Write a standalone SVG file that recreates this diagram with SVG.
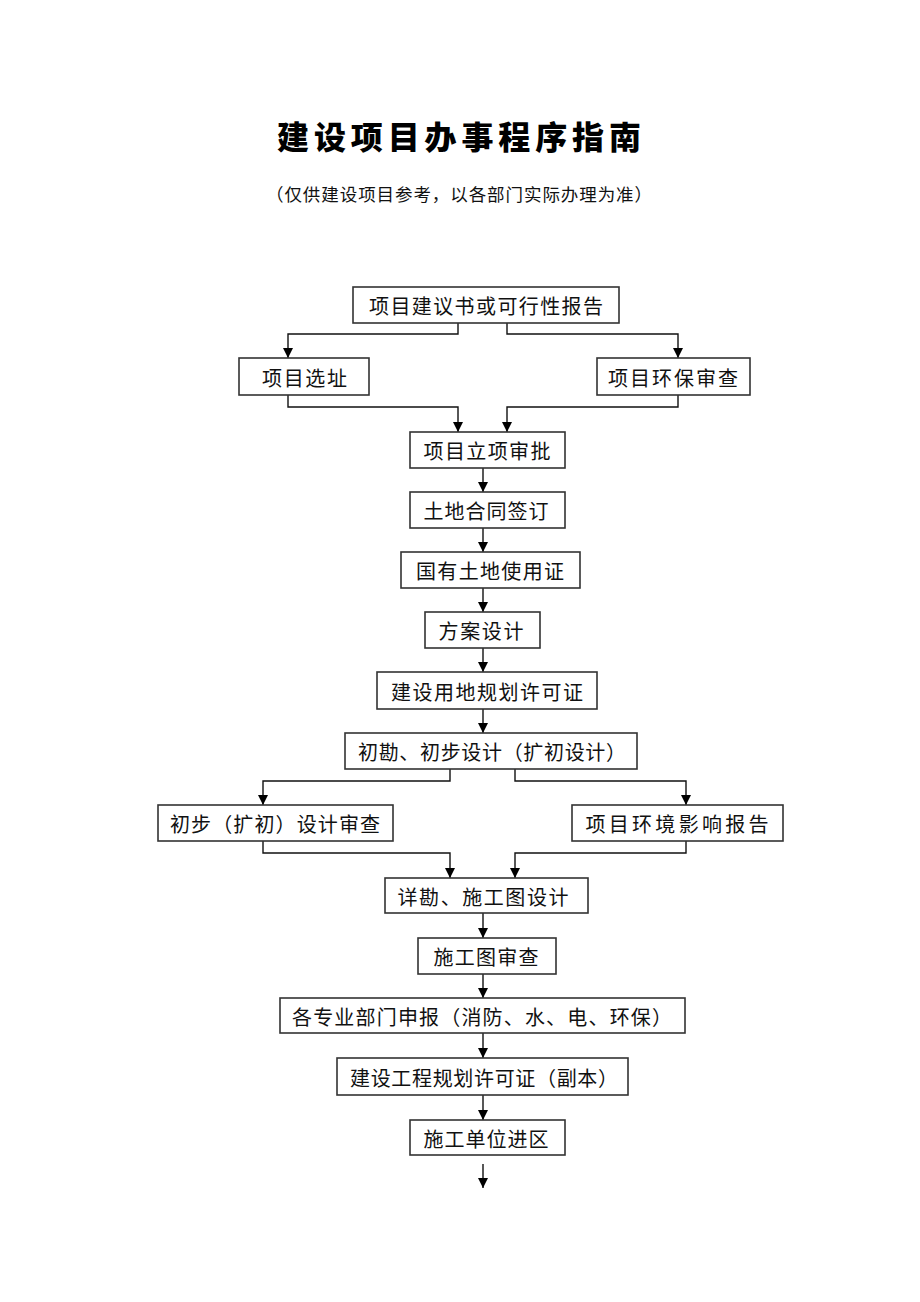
<svg xmlns="http://www.w3.org/2000/svg" width="920" height="1302" viewBox="0 0 920 1302">
<style>
.box{fill:#fff;stroke:#333;stroke-width:1.6}
.t{font-family:"Noto Sans CJK SC","Noto Sans CJK TC",sans-serif;font-size:20px;fill:#111;text-anchor:middle}
.c{fill:none;stroke:#111;stroke-width:1.4}
.title{font-family:"Noto Sans CJK SC",sans-serif;font-size:32px;font-weight:900;fill:#000;text-anchor:middle}
.sub{font-family:"Noto Sans CJK SC",sans-serif;font-size:17.5px;fill:#111;text-anchor:middle}
</style>
<defs>
<marker id="ah" markerUnits="userSpaceOnUse" markerWidth="10" markerHeight="10" refX="10" refY="5" orient="auto" viewBox="0 0 10 10">
<path d="M0,0 L10,5 L0,10 z" fill="#000"/>
</marker>
</defs>
<rect width="920" height="1302" fill="#fff"/>
<text class="title" x="459" y="149" textLength="364" lengthAdjust="spacing">建设项目办事程序指南</text>
<text class="sub" x="459" y="201" textLength="386" lengthAdjust="spacing">（仅供建设项目参考，以各部门实际办理为准）</text>

<g id="connectors">
<path class="c" marker-end="url(#ah)" d="M458,323 V334 H288 V358"/>
<path class="c" marker-end="url(#ah)" d="M507,323 V334 H678 V358"/>
<path class="c" marker-end="url(#ah)" d="M288,395 V407 H458 V432"/>
<path class="c" marker-end="url(#ah)" d="M678,395 V407 H507 V432"/>
<path class="c" marker-end="url(#ah)" d="M483,468 V492"/>
<path class="c" marker-end="url(#ah)" d="M483,528 V552"/>
<path class="c" marker-end="url(#ah)" d="M483,588 V612"/>
<path class="c" marker-end="url(#ah)" d="M483,648 V672"/>
<path class="c" marker-end="url(#ah)" d="M483,709 V733"/>
<path class="c" marker-end="url(#ah)" d="M450,769 V781 H263 V805"/>
<path class="c" marker-end="url(#ah)" d="M515,769 V781 H686 V805"/>
<path class="c" marker-end="url(#ah)" d="M263,841 V853 H450 V878"/>
<path class="c" marker-end="url(#ah)" d="M686,841 V853 H515 V878"/>
<path class="c" marker-end="url(#ah)" d="M483,913 V938"/>
<path class="c" marker-end="url(#ah)" d="M483,974 V998"/>
<path class="c" marker-end="url(#ah)" d="M483,1033 V1058"/>
<path class="c" marker-end="url(#ah)" d="M483,1095 V1120"/>
<path class="c" marker-end="url(#ah)" d="M483,1164 V1188"/>
</g>

<g id="n1"><rect class="box" x="353" y="287" width="266" height="36"/><text class="t" x="486" y="314" textLength="234" lengthAdjust="spacing">项目建议书或可行性报告</text></g>
<g id="n2"><rect class="box" x="239" y="358" width="130" height="37"/><text class="t" x="304.5" y="385.5" textLength="85" lengthAdjust="spacing">项目选址</text></g>
<g id="n3"><rect class="box" x="597" y="358" width="153" height="37"/><text class="t" x="673" y="385.5" textLength="130" lengthAdjust="spacing">项目环保审查</text></g>
<g id="n4"><rect class="box" x="410" y="432" width="155" height="36"/><text class="t" x="487" y="459" textLength="127" lengthAdjust="spacing">项目立项审批</text></g>
<g id="n5"><rect class="box" x="410" y="492" width="155" height="36"/><text class="t" x="486" y="519" textLength="125" lengthAdjust="spacing">土地合同签订</text></g>
<g id="n6"><rect class="box" x="401" y="552" width="179" height="36"/><text class="t" x="490" y="579" textLength="148" lengthAdjust="spacing">国有土地使用证</text></g>
<g id="n7"><rect class="box" x="425" y="612" width="115" height="36"/><text class="t" x="481" y="639" textLength="85" lengthAdjust="spacing">方案设计</text></g>
<g id="n8"><rect class="box" x="377" y="672" width="220" height="37"/><text class="t" x="487" y="699.5" textLength="192" lengthAdjust="spacing">建设用地规划许可证</text></g>
<g id="n9"><rect class="box" x="345" y="733" width="292" height="36"/><text class="t" x="492" y="760" textLength="268" lengthAdjust="spacing">初勘、初步设计（扩初设计）</text></g>
<g id="n10"><rect class="box" x="158" y="805" width="235" height="36"/><text class="t" x="275" y="832" textLength="210" lengthAdjust="spacing">初步（扩初）设计审查</text></g>
<g id="n11"><rect class="box" x="572" y="805" width="211" height="36"/><text class="t" x="677" y="832" textLength="183" lengthAdjust="spacing">项目环境影响报告</text></g>
<g id="n12"><rect class="box" x="385" y="878" width="203" height="35"/><text class="t" x="483" y="904.5" textLength="171" lengthAdjust="spacing">详勘、施工图设计</text></g>
<g id="n13"><rect class="box" x="418" y="938" width="138" height="36"/><text class="t" x="486" y="965" textLength="105" lengthAdjust="spacing">施工图审查</text></g>
<g id="n14"><rect class="box" x="280" y="998" width="405" height="35"/><text class="t" x="482" y="1024.5" textLength="380" lengthAdjust="spacing">各专业部门申报（消防、水、电、环保）</text></g>
<g id="n15"><rect class="box" x="337" y="1058" width="291" height="37"/><text class="t" x="484" y="1085.5" textLength="268" lengthAdjust="spacing">建设工程规划许可证（副本）</text></g>
<g id="n16"><rect class="box" x="410" y="1120" width="155" height="35"/><text class="t" x="486" y="1146.5" textLength="125" lengthAdjust="spacing">施工单位进区</text></g>
</svg>
